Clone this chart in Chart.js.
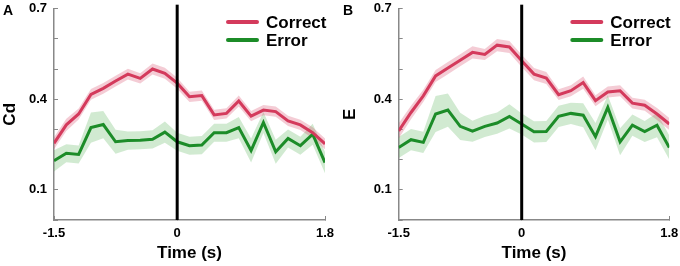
<!DOCTYPE html>
<html>
<head>
<meta charset="utf-8">
<script src="https://cdn.jsdelivr.net/npm/chart.js@4"></script>
<style>
  body { margin: 0; background: #fff; }
  .panel { position: absolute; top: 0; width: 340px; height: 266px; }
</style>
</head>
<body>
<div class="panel" style="left:0"><canvas id="cd" width="340" height="266"></canvas></div>
<div class="panel" style="left:340px"><canvas id="en" width="340" height="266"></canvas></div>
<script>
const times = [-1.5,-1.35,-1.2,-1.05,-0.9,-0.75,-0.6,-0.45,-0.3,-0.15,0,0.15,0.3,0.45,0.6,0.75,0.9,1.05,1.2,1.35,1.5,1.65,1.8];
const xTicks = [-1.5, 0, 1.8];
const yLabels = [0.1, 0.4, 0.7];

// panel A : Cd
const cdCorrect = [0.254,0.315,0.351,0.416,0.436,0.460,0.483,0.469,0.500,0.486,0.453,0.408,0.412,0.348,0.353,0.394,0.344,0.364,0.359,0.328,0.315,0.289,0.252];
const cdCorrectSem = [0.02,0.02,0.018,0.018,0.018,0.018,0.018,0.017,0.018,0.018,0.018,0.017,0.017,0.017,0.017,0.018,0.017,0.017,0.017,0.017,0.017,0.018,0.018];
const cdError = [0.196,0.221,0.217,0.306,0.316,0.259,0.263,0.264,0.267,0.291,0.259,0.246,0.248,0.289,0.289,0.306,0.230,0.323,0.226,0.270,0.246,0.284,0.190];
const cdErrorSem = [0.035,0.03,0.03,0.05,0.045,0.04,0.03,0.03,0.03,0.035,0.03,0.03,0.03,0.03,0.03,0.035,0.04,0.035,0.04,0.03,0.03,0.035,0.035];

// panel B : E
const eCorrect = [0.295,0.356,0.411,0.477,0.503,0.529,0.555,0.548,0.579,0.573,0.527,0.483,0.470,0.415,0.428,0.455,0.395,0.424,0.428,0.387,0.380,0.351,0.318];
const eCorrectSem = [0.025,0.022,0.02,0.02,0.02,0.02,0.02,0.018,0.02,0.02,0.02,0.02,0.02,0.018,0.018,0.02,0.018,0.018,0.018,0.018,0.018,0.02,0.02];
const eError = [0.240,0.266,0.257,0.351,0.364,0.310,0.294,0.310,0.321,0.343,0.318,0.292,0.293,0.343,0.353,0.347,0.276,0.373,0.259,0.314,0.293,0.314,0.240];
const eErrorSem = [0.035,0.035,0.035,0.06,0.055,0.045,0.035,0.035,0.035,0.04,0.035,0.035,0.035,0.035,0.035,0.04,0.045,0.04,0.045,0.035,0.035,0.04,0.04];

const RED = '#d43a5c', RED_BAND = 'rgba(212,58,92,0.26)';
const GREEN = '#1c8c28', GREEN_BAND = 'rgba(44,160,44,0.22)';
const FONT = 'Liberation Sans, Arial, sans-serif';

function pts(vals, sem, sign) {
  return times.map((t, i) => ({x: t, y: vals[i] + sign * (sem ? sem[i] : 0)}));
}

// lower edge, then upper edge filled down to the lower one
function bandSets(vals, sem, color, lowerIdx) {
  return [
    {data: pts(vals, sem, -1), borderWidth: 0, pointRadius: 0, fill: false, order: 3},
    {data: pts(vals, sem, 1), borderWidth: 0, pointRadius: 0, fill: lowerIdx, backgroundColor: color, order: 3}
  ];
}

const decor = {
  id: 'decor',
  afterDraw(chart, args, o) {
    const ctx = chart.ctx, ca = chart.chartArea;
    ctx.save();
    ctx.fillStyle = '#000';
    ctx.font = 'bold 14px ' + FONT;
    ctx.textBaseline = 'top';
    ctx.fillText(o.letter, 3, 4);
    // legend
    const items = [['Correct', RED, 22], ['Error', GREEN, 40]];
    const x0 = ca.right - 97;
    ctx.font = 'bold 17px ' + FONT;
    ctx.textBaseline = 'middle';
    ctx.lineCap = 'round';
    ctx.lineWidth = 4;
    items.forEach(([txt, col, y]) => {
      ctx.strokeStyle = col;
      ctx.beginPath();
      ctx.moveTo(x0, y);
      ctx.lineTo(x0 + 29, y);
      ctx.stroke();
      ctx.fillStyle = '#000';
      ctx.fillText(txt, x0 + 38, y + 1);
    });
    ctx.restore();
  }
};

function makeChart(el, letter, yTitle, correct, correctSem, error, errorSem, yWidth, padRight) {
  return new Chart(document.getElementById(el), {
    type: 'line',
    data: {
      datasets: [
        ...bandSets(correct, correctSem, RED_BAND, 0),
        ...bandSets(error, errorSem, GREEN_BAND, 2),
        {label: 'Correct', data: pts(correct, null, 0), borderColor: RED, borderWidth: 3, pointRadius: 0, fill: false, order: 1},
        {label: 'Error', data: pts(error, null, 0), borderColor: GREEN, borderWidth: 3, pointRadius: 0, fill: false, order: 1},
        {data: [{x: 0, y: 0}, {x: 0, y: 0.713}], borderColor: '#000', borderWidth: 3, pointRadius: 0, fill: false, clip: false, order: 0}
      ]
    },
    options: {
      responsive: false,
      animation: false,
      layout: {padding: {top: 8.6, right: padRight, left: 0, bottom: 0}},
      plugins: {legend: {display: false}, tooltip: {enabled: false}, decor: {letter: letter}},
      scales: {
        x: {
          type: 'linear', min: -1.5, max: 1.8,
          afterBuildTicks: s => { s.ticks = xTicks.map(v => ({value: v})); },
          afterFit: s => { s.height = 46; s.paddingLeft = 0; s.paddingRight = 0; },
          border: {color: '#888', width: 1.5},
          grid: {drawOnChartArea: false, drawTicks: true, tickLength: -4, color: '#888'},
          ticks: {padding: 10, color: '#000', font: {family: FONT, size: 13, weight: 'bold'}, maxRotation: 0,
                  callback: v => String(v)},
          title: {display: true, text: 'Time (s)', color: '#000', padding: {top: 0, bottom: 2}, font: {family: FONT, size: 17, weight: 'bold'}}
        },
        y: {
          min: 0, max: 0.7,
          afterFit: s => { s.width = yWidth; s.paddingTop = 0; s.paddingBottom = 0; },
          border: {color: '#888', width: 1.5},
          grid: {drawOnChartArea: false, drawTicks: true, tickLength: -4, color: '#888'},
          ticks: {stepSize: 0.1, padding: 11, color: '#000', font: {family: FONT, size: 13, weight: 'bold'},
                  callback: v => yLabels.some(l => Math.abs(l - v) < 1e-6) ? v.toFixed(1) : ''},
          title: {display: true, text: yTitle, color: '#000', padding: 0, font: {family: FONT, size: 17, weight: 'bold'}}
        }
      }
    },
    plugins: [decor]
  });
}

makeChart('cd', 'A', 'Cd', cdCorrect, cdCorrectSem, cdError, cdErrorSem, 54, 15);
makeChart('en', 'B', 'E', eCorrect, eCorrectSem, eError, eErrorSem, 58.7, 10.7);
</script>
</body>
</html>
